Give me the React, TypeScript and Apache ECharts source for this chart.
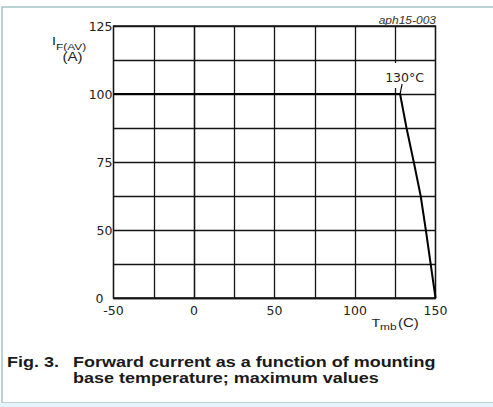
import React, { useEffect, useRef } from "react";
import * as echarts from "echarts";

// Mounting base temperature (°C) and forward current (A).
// The y axis is drawn as in the reference: evenly spaced lines with the bottom line labelled "0".
const tempC = [-50, 128, 132, 136.5, 140.8, 144, 147, 150];
const currentA = [100, 100, 87.5, 75, 62.5, 50, 37.5, 25];

const xTickValues = [-50, 0, 50, 100, 150];
const yTickValues = [125, 100, 75, 50, 25];
const yTickTexts = ["125", "100", "75", "50", "0"];

const captionNo = "Fig. 3.";
const captionLines = ["Forward current as a function of mounting", "base temperature; maximum values"];
const figId = "aph15-003";
const limitLabel = "130°C";

export default function App() {
  const ref = useRef<HTMLDivElement>(null);
  useEffect(() => {
    if (!ref.current) return;
    const chart = echarts.init(ref.current, null, { renderer: "svg" });
    const lineC = "#151515";
    const tickFont = { fontFamily: "DejaVu Sans", fontSize: 12.5, color: "#222" };
    chart.setOption({
      animation: false,
      backgroundColor: "#ffffff",
      grid: {
        left: 113.5, top: 26, width: 322, height: 272,
        show: true, borderColor: lineC, borderWidth: 1.3, backgroundColor: "transparent",
      },
      xAxis: {
        type: "value", min: -50, max: 150, interval: 25,
        axisLine: { show: true, lineStyle: { color: lineC, width: 1.3 } },
        axisTick: { show: false },
        splitLine: { show: true, lineStyle: { color: lineC, width: 1.3 } },
        axisLabel: {
          ...tickFont, margin: 6,
          formatter: (v: number) => (xTickValues.indexOf(v) >= 0 ? String(v) : ""),
        },
      },
      yAxis: {
        type: "value", min: 25, max: 125, interval: 12.5,
        axisLine: { show: true, lineStyle: { color: lineC, width: 1.3 } },
        axisTick: { show: false },
        splitLine: { show: true, lineStyle: { color: lineC, width: 1.3 } },
        axisLabel: {
          ...tickFont, margin: 1,
          formatter: (v: number) => {
            const i = yTickValues.indexOf(v);
            if (i < 0) return "";
            return i === yTickValues.length - 1 ? "{z|" + yTickTexts[i] + "}" : yTickTexts[i];
          },
          rich: { z: { ...tickFont, padding: [0, 9, 0, 0] } },
        },
      },
      series: [
        {
          type: "line",
          data: tempC.map((t, i) => [t, currentA[i]]),
          showSymbol: false,
          symbol: "none",
          lineStyle: { color: "#000", width: 2 },
          z: 5,
        },
      ],
    });

    const p = chart.convertToPixel({ gridIndex: 0 }, [tempC[1], currentA[1]]) as number[];
    const sx = 1.2;
    chart.setOption({
      graphic: [
        { type: "rect", z: 0, silent: true, shape: { x: 2, y: 7, width: 500, height: 396 },
          style: { fill: "none", stroke: "#a6c4c7", lineWidth: 1.5 } },
        { type: "rect", z: 0, silent: true, shape: { x: 0, y: 403, width: 493, height: 4 },
          style: { fill: "#e3f5fa" } },
        // 130°C annotation
        { type: "rect", z: 10, shape: { x: p[0] - 15, y: p[1] - 31, width: 41, height: 25 },
          style: { fill: "#ffffff" } },
        { type: "text", z: 11, x: p[0] + 4.5, y: p[1] - 17,
          style: { text: limitLabel, fontFamily: "DejaVu Sans", fontSize: 12.5, fill: "#222",
            align: "center", verticalAlign: "middle" } },
        { type: "line", z: 11, shape: { x1: p[0], y1: p[1], x2: p[0] + 2, y2: p[1] - 10 },
          style: { stroke: "#000", lineWidth: 1.2 } },
        // figure id
        { type: "text", z: 11, x: 436, y: 20, scaleX: sx,
          style: { text: figId, fontFamily: "Liberation Sans", fontStyle: "italic", fontSize: 10,
            fill: "#333", align: "right", verticalAlign: "middle" } },
        // y axis title
        { type: "text", z: 11, x: 52, y: 41.5, scaleX: 1.25,
          style: { text: "I", fontFamily: "Liberation Sans", fontSize: 11.5, fill: "#222",
            verticalAlign: "middle" } },
        { type: "text", z: 11, x: 56, y: 46, scaleX: 1.25,
          style: { text: "F(AV)", fontFamily: "Liberation Sans", fontSize: 9.5, fill: "#222",
            verticalAlign: "middle" } },
        { type: "text", z: 11, x: 72.5, y: 57, scaleX: 1.25,
          style: { text: "(A)", fontFamily: "Liberation Sans", fontSize: 12, fill: "#222",
            align: "center", verticalAlign: "middle" } },
        // x axis title
        { type: "text", z: 11, x: 371.5, y: 323, scaleX: 1.25,
          style: { text: "T", fontFamily: "Liberation Sans", fontSize: 11.5, fill: "#222",
            verticalAlign: "middle" } },
        { type: "text", z: 11, x: 380, y: 326.5, scaleX: 1.25,
          style: { text: "mb", fontFamily: "Liberation Sans", fontSize: 9.5, fill: "#222",
            verticalAlign: "middle" } },
        { type: "text", z: 11, x: 398, y: 323.5, scaleX: 1.25,
          style: { text: "(C)", fontFamily: "Liberation Sans", fontSize: 12, fill: "#222",
            verticalAlign: "middle" } },
        // caption
        { type: "text", z: 11, x: 7, y: 362, scaleX: sx,
          style: { text: captionNo, fontFamily: "Liberation Sans", fontWeight: "bold", fontSize: 15,
            fill: "#1a1a1a", verticalAlign: "middle" } },
        { type: "text", z: 11, x: 73, y: 362, scaleX: sx,
          style: { text: captionLines[0], fontFamily: "Liberation Sans", fontWeight: "bold", fontSize: 15,
            fill: "#1a1a1a", verticalAlign: "middle" } },
        { type: "text", z: 11, x: 73, y: 378, scaleX: sx,
          style: { text: captionLines[1], fontFamily: "Liberation Sans", fontWeight: "bold", fontSize: 15,
            fill: "#1a1a1a", verticalAlign: "middle" } },
      ],
    });
    return () => chart.dispose();
  }, []);
  return (
    <div
      ref={ref}
      style={{ position: "fixed", left: 0, top: 0, width: 493, height: 407, background: "#fff" }}
    />
  );
}
